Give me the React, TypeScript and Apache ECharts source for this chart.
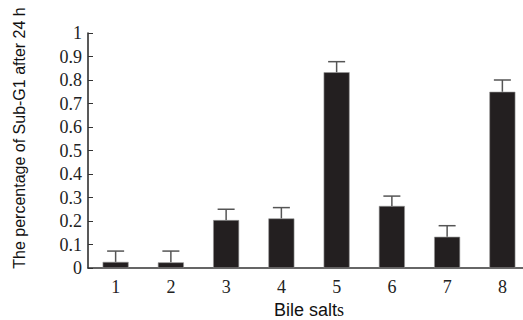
import React, { useEffect, useRef } from "react";
import * as echarts from "echarts";

const categories = ["1", "2", "3", "4", "5", "6", "7", "8"];
const values = [0.026, 0.024, 0.204, 0.211, 0.833, 0.264, 0.133, 0.75];
const errors = [0.046, 0.048, 0.046, 0.046, 0.045, 0.042, 0.047, 0.05];
const yTitle = "The percentage of Sub-G1 after 24 h";

export default function App() {
  const ref = useRef<HTMLDivElement>(null);
  useEffect(() => {
    if (!ref.current) return;
    const chart = echarts.init(ref.current, null, { renderer: "svg" });
    const errData = values.map((v, i) => [i, v, v + errors[i]]);
    chart.setOption({
      animation: false,
      backgroundColor: "#fff",
      grid: {
        left: 88,
        right: -7,
        top: 33,
        bottom: 52,
        containLabel: false,
        outerBoundsMode: "none",
      },
      xAxis: {
        type: "category",
        data: categories,
        name: "{a|Bile salt}{b|s}",
        nameLocation: "middle",
        nameGap: 32,
        nameTextStyle: {
          rich: {
            a: { fontFamily: "Liberation Sans", fontSize: 18, color: "#111" },
            b: { fontFamily: "Liberation Serif", fontSize: 18, color: "#111" },
          },
        },
        axisLine: { lineStyle: { color: "#333", width: 1.5 } },
        axisTick: { inside: true, length: 6, lineStyle: { color: "#333" } },
        axisLabel: {
          fontFamily: "Liberation Serif",
          fontSize: 18,
          color: "#222",
          margin: 10,
        },
      },
      yAxis: {
        type: "value",
        min: 0,
        max: 1,
        interval: 0.1,
        splitLine: { show: false },
        axisLine: { show: true, lineStyle: { color: "#222", width: 1.5 } },
        axisTick: { show: true, inside: true, length: 5, lineStyle: { color: "#333" } },
        axisLabel: {
          fontFamily: "Liberation Serif",
          fontSize: 18,
          color: "#222",
          margin: 6,
          formatter: (v: number) => (v === 0 ? "0" : v === 1 ? "1" : v.toFixed(1)),
        },
      },
      graphic: [
        {
          type: "text",
          x: 19,
          y: 138,
          rotation: Math.PI / 2,
          style: {
            text: yTitle,
            fontFamily: "Liberation Sans",
            fontSize: 16,
            fill: "#111",
            align: "center",
            verticalAlign: "middle",
          },
        },
      ],
      series: [
        {
          type: "bar",
          data: values,
          barWidth: 26,
          itemStyle: { color: "#231f20", borderColor: "#999", borderWidth: 0.6 },
        },
        {
          type: "custom",
          data: errData,
          encode: { x: 0, y: 2 },
          z: 3,
          renderItem: (params: any, api: any) => {
            const i = api.value(0);
            const top = api.coord([i, api.value(2)]);
            const base = api.coord([i, api.value(1)]);
            const half = 8.5;
            const style = { stroke: "#555", lineWidth: 1.5 };
            return {
              type: "group",
              children: [
                { type: "line", shape: { x1: top[0], y1: base[1], x2: top[0], y2: top[1] }, style },
                { type: "line", shape: { x1: top[0] - half, y1: top[1], x2: top[0] + half, y2: top[1] }, style },
              ],
            };
          },
        },
      ],
    });
    return () => chart.dispose();
  }, []);
  return (
    <div
      ref={ref}
      style={{ position: "fixed", left: 0, top: 0, width: 523, height: 320 }}
    />
  );
}
